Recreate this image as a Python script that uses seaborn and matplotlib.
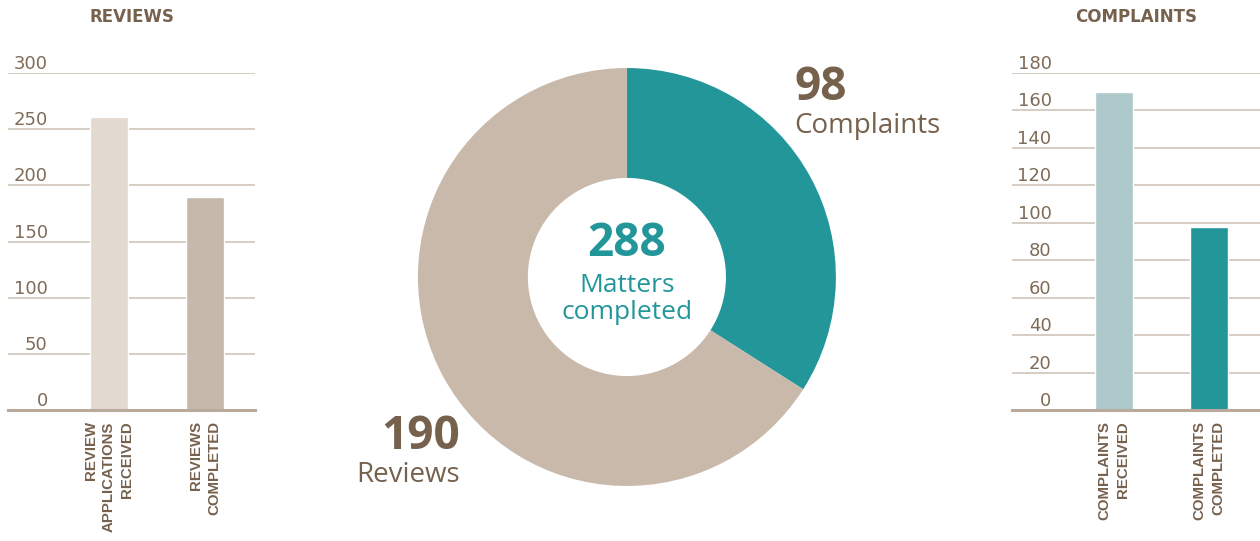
import matplotlib
matplotlib.use("Agg")
import matplotlib.pyplot as plt
import seaborn as sns
import pandas as pd

# data
review_cats = ["REVIEW\nAPPLICATIONS\nRECEIVED", "REVIEWS\nCOMPLETED"]
review_vals = [261, 190]
complaint_cats = ["COMPLAINTS\nRECEIVED", "COMPLAINTS\nCOMPLETED"]
complaint_vals = [170, 98]
donut_labels = ["Complaints", "Reviews"]
donut_vals = [98, 190]
total_completed = 288

sns.set_theme(style="white")
plt.rcParams["font.family"] = ["DejaVu Sans"]

BROWN = "#76614d"
TICK = "#7f6b58"
GRID = "#cabfb4"
TEAL = "#23969a"

fig = plt.figure(figsize=(12.6, 5.41), dpi=100)


def bar_panel(rect, cats, vals, colors, title, yticks, xlim):
    ax = fig.add_axes(rect)
    df = pd.DataFrame({"cat": cats, "val": vals})
    sns.barplot(data=df, x="cat", y="val", hue="cat", palette=colors,
                width=0.4, legend=False, ax=ax, saturation=1)
    ax.set_xlim(*xlim)
    ax.set_ylim(0, yticks[-1])
    ax.set_yticks(yticks)
    ax.set_xlabel("")
    ax.set_ylabel("")
    for s in ["top", "right", "left"]:
        ax.spines[s].set_visible(False)
    ax.spines["bottom"].set_color("#b9aa9b")
    ax.spines["bottom"].set_linewidth(2.2)
    ax.yaxis.grid(True, color=GRID, linewidth=1.1)
    ax.set_axisbelow(True)
    ax.tick_params(axis="y", length=0, pad=-28.5, labelsize=13, labelcolor=TICK)
    for lab in ax.get_yticklabels():
        lab.set_verticalalignment("bottom")
    ax.tick_params(axis="x", length=0, pad=8)
    ax.set_xticks(range(len(cats)))
    ax.set_xticklabels(cats, rotation=90, fontsize=10.8, fontweight="bold",
                       color=BROWN, multialignment="right",
                       family=["Liberation Sans", "DejaVu Sans"],
                       linespacing=1.4)
    ax.set_title(title, fontsize=12, fontweight="bold", color=BROWN, pad=37)
    return ax


bar_panel([0.0064, 0.2421, 0.196, 0.6229], review_cats, review_vals,
          ["#e2d9d0", "#c6b8ab"], "REVIEWS", [0, 50, 100, 150, 200, 250, 300],
          (-1.05, 1.52))
bar_panel([0.8032, 0.2421, 0.1968, 0.6229], complaint_cats, complaint_vals,
          ["#adc9cc", TEAL], "COMPLAINTS", list(range(0, 181, 20)),
          (-1.07, 1.54))

# donut
ax = fig.add_axes([0.3317, 0.1017, 0.3317, 0.7726])
ax.pie(donut_vals, colors=[TEAL, "#c8b9ab"], startangle=90, counterclock=False,
       wedgeprops=dict(width=0.526, edgecolor="none"))
ax.set_xlim(-1, 1)
ax.set_ylim(-1, 1)
ax.set_aspect("equal")
ax.axis("off")

num_font = ["Open Sans", "DejaVu Sans"]
ax.text(0, 0.16, str(total_completed), ha="center", va="center", fontsize=33,
        fontweight="bold", color=TEAL, family=num_font)
ax.text(0, -0.105, "Matters\ncompleted", ha="center", va="center", fontsize=19,
        color=TEAL, family=num_font, linespacing=1.1)
ax.text(0.8, 1.02, str(donut_vals[0]), ha="left", va="top", fontsize=33,
        fontweight="bold", color=BROWN, family=num_font)
ax.text(0.8, 0.79, donut_labels[0], ha="left", va="top", fontsize=20,
        color=BROWN, family=num_font)
ax.text(-0.8, -0.65, str(donut_vals[1]), ha="right", va="top", fontsize=33,
        fontweight="bold", color=BROWN, family=num_font)
ax.text(-0.8, -0.88, donut_labels[1], ha="right", va="top", fontsize=20,
        color=BROWN, family=num_font)

fig.savefig("out.png", dpi=100)
